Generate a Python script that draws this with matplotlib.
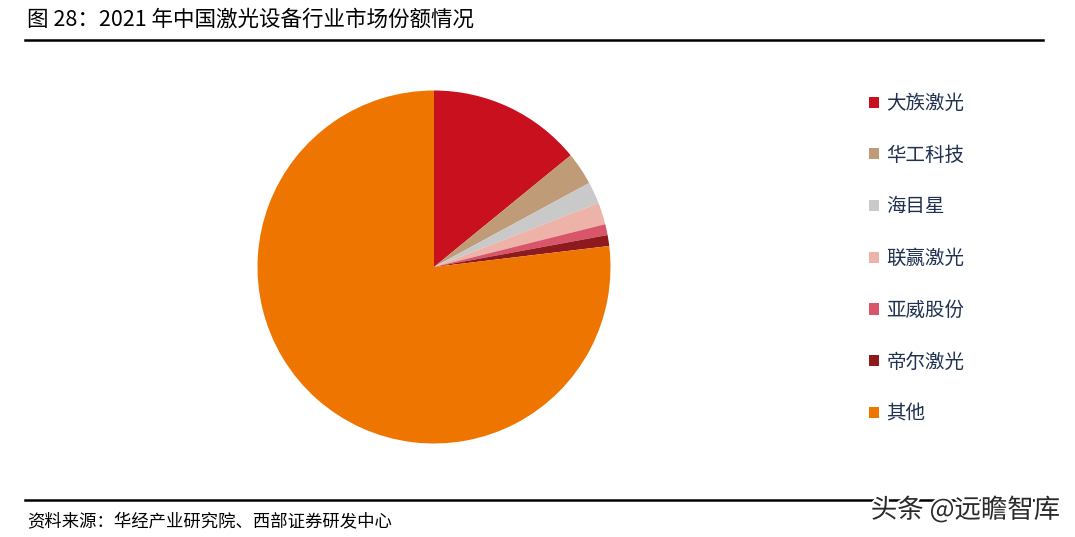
import matplotlib
matplotlib.use("Agg")
import matplotlib.pyplot as plt
from matplotlib.lines import Line2D
import matplotlib.patheffects as pe

plt.rcParams['font.family'] = ['Noto Sans CJK SC', 'DejaVu Sans']

# data (market share, %)
companies = ['大族激光', '华工科技', '海目星', '联赢激光', '亚威股份', '帝尔激光', '其他']
shares = [14.1, 3.0, 2.0, 2.0, 1.0, 1.0, 76.9]
colors = ['#C8101E', '#BF9B78', '#C9C9C9', '#EDB3A8', '#D9566A', '#8E1A1E', '#EE7600']

title = '图 28：2021 年中国激光设备行业市场份额情况'
source = '资料来源：华经产业研究院、西部证券研发中心'

W, H = 1075, 537
fig = plt.figure(figsize=(W / 100, H / 100), dpi=100)

# pie axes: center (434, 267), radius ~176 px
cx, cy, r = 434, 267, 176.5
ax = fig.add_axes([(cx - r) / W, 1 - (cy + r) / H, 2 * r / W, 2 * r / H])
wedges, _ = ax.pie(shares, colors=colors, startangle=90, counterclock=False,
                   radius=1, wedgeprops=dict(linewidth=0))
ax.set_xlim(-1, 1)
ax.set_ylim(-1, 1)
ax.set_aspect('equal')
ax.axis('off')

leg = fig.legend(wedges, companies, loc='upper left',
                 bbox_to_anchor=(869 / W, 1 - 93 / H), borderaxespad=0,
                 borderpad=0, frameon=False, fontsize=14,
                 handlelength=0.5, handleheight=0.5, handletextpad=0.4,
                 labelspacing=1.58, labelcolor='#1F3050')

# header / footer
fig.text(27 / W, 1 - 20 / H, title, fontsize=15.5, va='center', ha='left', color='black')
fig.add_artist(Line2D([25 / W, 1043 / W], [1 - 40 / H, 1 - 40 / H], color='black', lw=1.8))
fig.add_artist(Line2D([25 / W, 1043 / W], [1 - 500 / H, 1 - 500 / H], color='black', lw=1.8))
fig.text(27 / W, 1 - 521 / H, source, fontsize=12.5, va='center', ha='left', color='black')

wm = fig.text(1060 / W, 1 - 510 / H, '头条 @远瞻智库', fontsize=19, va='center', ha='right',
              color='#2A2A2A')
wm.set_path_effects([pe.withStroke(linewidth=3, foreground='white')])

fig.savefig('out.png', dpi=100, facecolor='white')
